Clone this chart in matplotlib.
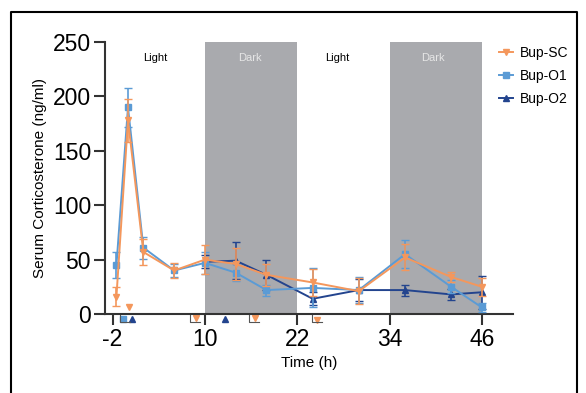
import matplotlib.pyplot as plt
from matplotlib.lines import Line2D

plt.rcParams['font.family'] = ['Liberation Sans', 'DejaVu Sans']
plt.rcParams['axes.unicode_minus'] = False

# Données
t = [-1.5, 0, 2, 6, 10, 14, 18, 24, 30, 36, 42, 46]
sc = [16, 178, 57, 40, 50, 46, 36, 29, 21, 52, 34, 25]
sc_err = [9, 20, 12, 7, 13, 15, 10, 12, 12, 12, 5, 8]
o1 = [45, 190, 61, 40, 47, 38, 22, 24, 22, 55, 25, 6]
o1_err = [12, 18, 10, 6, 10, 8, 5, 18, 12, 13, 6, 4]
t2 = [10, 14, 18, 24, 30, 36, 42, 46]
o2 = [48, 49, 36, 14, 22, 22, 18, 20]
o2_err = [6, 17, 14, 6, 10, 5, 5, 15]

dark = [(10, 22), (34, 46)]
labels = [(3.6, 'Light', 'k'), (15.8, 'Dark', '#e6e6e6'), (27.2, 'Light', 'k'), (39.6, 'Dark', '#e6e6e6')]

c_sc, c_o1, c_o2 = '#f4975c', '#5b9bd5', '#23448e'

fig = plt.figure(figsize=(5.86, 3.93), dpi=100)
ax = fig.add_axes([0.179, 0.201, 0.696, 0.692])

for a, b in dark:
    ax.axvspan(a, b, color='#a9aaae', lw=0, zorder=0)
for x, s, c in labels:
    ax.text(x, 235, s, color=c, fontsize=8, ha='center', va='center')

ax.errorbar(t2, o2, yerr=o2_err, color=c_o2, marker='^', ms=5, lw=1.4, capsize=3, elinewidth=1.2, zorder=3)
ax.errorbar(t, o1, yerr=o1_err, color=c_o1, marker='s', ms=5, lw=1.4, capsize=3, elinewidth=1.2, zorder=4)
ax.errorbar(t, sc, yerr=sc_err, color=c_sc, marker='v', ms=5, lw=1.4, capsize=3, elinewidth=1.2, zorder=5)

# petits marqueurs sous l'axe
ax.plot([0.1, 8.8, 16.5, 24.6], [6, -3.5, -3.5, -5.5], 'v', color=c_sc, ms=4, clip_on=False)
ax.plot([-0.6], [-4.5], 's', color=c_o1, ms=4, clip_on=False)
ax.plot([0.5, 12.6], [-4.5, -4.5], '^', color=c_o2, ms=4, clip_on=False)
for x0 in [-1.0, 8.0, 15.7, 23.9]:
    ax.plot([x0, x0, x0 + 1.3], [0, -7, -7], color='#555555', lw=0.8, clip_on=False)

ax.set_xlim(-3, 50)
ax.set_ylim(0, 250)
ax.set_xticks([-2, 10, 22, 34, 46])
ax.set_yticks([0, 50, 100, 150, 200, 250])
ax.spines['top'].set_visible(False)
ax.spines['right'].set_visible(False)
for s in ['left', 'bottom']:
    ax.spines[s].set_linewidth(1.5)
    ax.spines[s].set_color('#333333')
ax.tick_params(labelsize=16.5, length=8, width=1.5, color='#333333', pad=2)
ax.set_xlabel('Time (h)', fontsize=11)
ax.set_ylabel('Serum Corticosterone (ng/ml)', fontsize=11)

handles = [Line2D([], [], color=c_sc, marker='v', ms=5, lw=1.4),
           Line2D([], [], color=c_o1, marker='s', ms=5, lw=1.4),
           Line2D([], [], color=c_o2, marker='^', ms=5, lw=1.4)]
fig.legend(handles, ['Bup-SC', 'Bup-O1', 'Bup-O2'], loc='upper left', bbox_to_anchor=(0.83, 0.915),
           frameon=False, fontsize=10, handlelength=1.0, handletextpad=0.5, labelspacing=0.65)

# cadre
fig.add_artist(Line2D([11/586, 11/586, 577/586, 577/586], [0, 1-12/393, 1-12/393, 0], color='k', lw=1.5))

plt.savefig('out.png')
